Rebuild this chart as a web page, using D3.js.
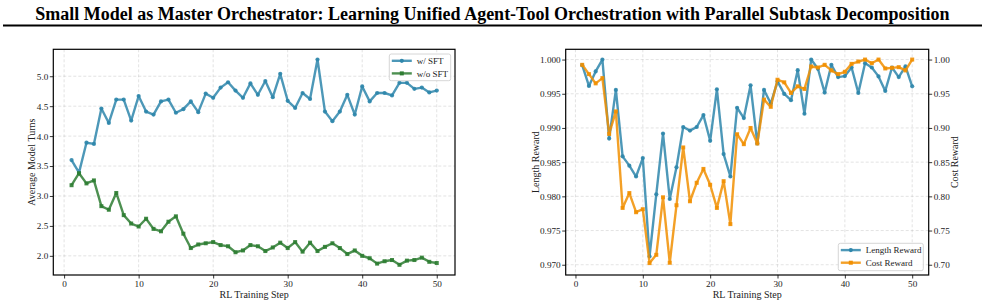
<!DOCTYPE html>
<html>
<head>
<meta charset="utf-8">
<script src="https://cdn.jsdelivr.net/npm/d3@7"></script>
<style>
  body { margin: 0; background: #fff; }
  svg { display: block; font-family: "Liberation Serif", "Times New Roman", serif; }
  svg text { font-family: "Liberation Serif", "Times New Roman", serif; }
</style>
</head>
<body>
<svg id="chart" width="985" height="306"></svg>
<script>
// RL training steps 1..50
const steps = d3.range(1, 51)

// left panel: average model turns
const withSft = [3.60, 3.39, 3.89, 3.87, 4.46, 4.22, 4.61, 4.61, 4.26, 4.67,
  4.41, 4.36, 4.58, 4.61, 4.39, 4.45, 4.58, 4.40, 4.71, 4.64,
  4.81, 4.90, 4.76, 4.64, 4.88, 4.69, 4.92, 4.65, 5.04, 4.59,
  4.47, 4.72, 4.62, 5.28, 4.41, 4.25, 4.41, 4.69, 4.36, 4.83,
  4.58, 4.72, 4.72, 4.68, 4.89, 4.89, 4.79, 4.81, 4.73, 4.76]
const withoutSft = [3.18, 3.38, 3.21, 3.26, 2.83, 2.77, 3.05, 2.68, 2.54, 2.49,
  2.62, 2.45, 2.41, 2.57, 2.66, 2.37, 2.13, 2.19, 2.21, 2.23,
  2.18, 2.16, 2.06, 2.09, 2.18, 2.16, 2.08, 2.14, 2.22, 2.13,
  2.23, 2.07, 2.22, 2.08, 2.15, 2.21, 2.13, 2.03, 2.09, 2.00,
  1.96, 1.87, 1.91, 1.93, 1.85, 1.92, 1.93, 1.97, 1.90, 1.88]

// right panel: length reward (left axis) and cost reward (right axis)
const lengthReward = [0.99918, 0.99614, 0.99826, 1.00000, 0.98845, 0.99556, 0.98585, 0.98449, 0.98290, 0.98560,
  0.97121, 0.98029, 0.98918, 0.97961, 0.98425, 0.99014, 0.98961, 0.99014, 0.99188, 0.98812,
  0.99565, 0.98618, 0.98290, 0.99295, 0.99145, 0.99623, 0.98773, 0.99556, 0.99357, 0.99681,
  0.99498, 0.99406, 0.99845, 0.99208, 1.00000, 0.99865, 0.99517, 0.99923, 0.99744, 0.99758,
  0.99884, 0.99512, 0.99947, 0.99884, 0.99754, 0.99541, 0.99884, 0.99744, 0.99899, 0.99609]
const costReward = [0.9923, 0.9787, 0.9652, 0.9729, 0.8913, 0.9242, 0.7831, 0.8048, 0.7768, 0.7812,
  0.7024, 0.7145, 0.7986, 0.7029, 0.7870, 0.8715, 0.7928, 0.8198, 0.8401, 0.8169,
  0.7831, 0.8222, 0.7594, 0.8908, 0.8763, 0.9000, 0.8773, 0.9415, 0.9309, 0.9705,
  0.9667, 0.9512, 0.9609, 0.9570, 0.9899, 0.9884, 0.9923, 0.9841, 0.9787, 0.9821,
  0.9937, 0.9971, 1.0000, 0.9947, 1.0000, 0.9870, 0.9879, 0.9889, 0.9841, 1.0000]

const xTicks = [0, 10, 20, 30, 40, 50]
const turnTicks = [2.0, 2.5, 3.0, 3.5, 4.0, 4.5, 5.0]
const lengthTicks = [0.970, 0.975, 0.980, 0.985, 0.990, 0.995, 1.000]
const costTicks = [0.70, 0.75, 0.80, 0.85, 0.90, 0.95, 1.00]

const BLUE = '#2E86AB', GREEN = '#2E7D32', ORANGE = '#F18F01'
const TEXT = '#222'

const svg = d3.select('#chart')

// title + rule
svg.append('text')
  .attr('x', 492.5).attr('y', 19.5)
  .attr('text-anchor', 'middle')
  .attr('font-size', 18).attr('font-weight', 'bold')
  .text('Small Model as Master Orchestrator: Learning Unified Agent-Tool Orchestration with Parallel Subtask Decomposition')
svg.append('line')
  .attr('x1', 3).attr('x2', 982).attr('y1', 25.5).attr('y2', 25.5)
  .attr('stroke', '#000').attr('stroke-width', 2)

const plotTop = 49.3, plotBottom = 275

function panel(left, right) {
  return d3.scaleLinear().domain([-1.45, 52.45]).range([left, right])
}

function grid(x, y, yTicks, left, right) {
  const g = svg.append('g')
  g.selectAll('.gx').data(xTicks).enter().append('line')
    .attr('x1', d => x(d)).attr('x2', d => x(d))
    .attr('y1', plotTop).attr('y2', plotBottom)
    .attr('stroke', '#b0b0b0').attr('stroke-opacity', 0.45)
    .attr('stroke-dasharray', '3,2').attr('stroke-width', 0.8)
  g.selectAll('.gy').data(yTicks).enter().append('line')
    .attr('x1', left).attr('x2', right)
    .attr('y1', d => y(d)).attr('y2', d => y(d))
    .attr('stroke', '#b0b0b0').attr('stroke-opacity', 0.45)
    .attr('stroke-dasharray', '3,2').attr('stroke-width', 0.8)
}

function series(x, y, values, color, marker) {
  const line = d3.line().x((d, i) => x(steps[i])).y(d => y(d))
  svg.append('path').datum(values)
    .attr('d', line).attr('fill', 'none')
    .attr('stroke', color).attr('stroke-width', 2.4)
    .attr('stroke-opacity', 0.85).attr('stroke-linejoin', 'round')
  const pts = svg.append('g').attr('fill', color).attr('fill-opacity', 0.9)
  if (marker === 'circle') {
    pts.selectAll('circle').data(values).enter().append('circle')
      .attr('cx', (d, i) => x(steps[i])).attr('cy', d => y(d)).attr('r', 2.1)
  } else {
    pts.selectAll('rect').data(values).enter().append('rect')
      .attr('x', (d, i) => x(steps[i]) - 2).attr('y', d => y(d) - 2)
      .attr('width', 4).attr('height', 4)
  }
}

function styleAxis(g) {
  g.attr('font-family', null).attr('font-size', null)
  g.selectAll('path').remove()
  g.selectAll('line').attr('stroke', '#000').attr('stroke-width', 0.8)
  g.selectAll('text').style('font-size', '9.2px').attr('fill', TEXT)
}

function frame(left, right) {
  svg.append('rect')
    .attr('x', left).attr('y', plotTop)
    .attr('width', right - left).attr('height', plotBottom - plotTop)
    .attr('fill', 'none').attr('stroke', '#000').attr('stroke-width', 1.2)
}

function legend(x0, y0, w, h, items) {
  const g = svg.append('g')
  g.append('rect').attr('x', x0).attr('y', y0).attr('width', w).attr('height', h)
    .attr('rx', 2).attr('fill', '#fff').attr('fill-opacity', 0.85)
    .attr('stroke', '#ccc').attr('stroke-width', 0.8)
  items.forEach((it, i) => {
    const cy = y0 + 6.8 + i * 12.6
    g.append('line').attr('x1', x0 + 2.5).attr('x2', x0 + 22.5)
      .attr('y1', cy).attr('y2', cy)
      .attr('stroke', it.color).attr('stroke-width', 2.4).attr('stroke-opacity', 0.85)
    if (it.marker === 'circle') {
      g.append('circle').attr('cx', x0 + 12.5).attr('cy', cy).attr('r', 2.1).attr('fill', it.color)
    } else {
      g.append('rect').attr('x', x0 + 10.5).attr('y', cy - 2).attr('width', 4).attr('height', 4).attr('fill', it.color)
    }
    g.append('text').attr('x', x0 + 27.5).attr('y', cy + 3.2)
      .attr('font-size', 9).attr('fill', TEXT).text(it.label)
  })
}

function axisLabel(x, y, rotate, label) {
  svg.append('text')
    .attr('transform', `translate(${x},${y})` + (rotate ? ' rotate(-90)' : ''))
    .attr('text-anchor', 'middle').attr('font-size', 10).attr('fill', TEXT)
    .text(label)
}

// ---------- left panel ----------
{
  const left = 53.3, right = 455
  const x = panel(left, right)
  const y = d3.scaleLinear().domain([1.68, 5.45]).range([plotBottom, plotTop])
  grid(x, y, turnTicks, left, right)
  series(x, y, withSft, BLUE, 'circle')
  series(x, y, withoutSft, GREEN, 'square')

  svg.append('g').attr('transform', `translate(0,${plotBottom})`)
    .call(d3.axisBottom(x).tickValues(xTicks).tickSize(3.5).tickPadding(1.5).tickFormat(d3.format('d')))
    .call(styleAxis)
  svg.append('g').attr('transform', `translate(${left},0)`)
    .call(d3.axisLeft(y).tickValues(turnTicks).tickSize(3.5).tickPadding(1.5).tickFormat(d3.format('.1f')))
    .call(styleAxis)
  frame(left, right)

  axisLabel((left + right) / 2, 297.5, false, 'RL Training Step')
  axisLabel(34.5, (plotTop + plotBottom) / 2, true, 'Average Model Turns')

  legend(389.3, 54, 61.4, 26.7, [
    { label: 'w/ SFT', color: BLUE, marker: 'circle' },
    { label: 'w/o SFT', color: GREEN, marker: 'square' }
  ])
}

// ---------- right panel ----------
{
  const left = 565.7, right = 928.7
  const x = panel(left, right)
  const yL = d3.scaleLinear().domain([0.9685, 1.0015]).range([plotBottom, plotTop])
  const yR = d3.scaleLinear().domain([0.685, 1.015]).range([plotBottom, plotTop])
  grid(x, yL, lengthTicks, left, right)
  series(x, yL, lengthReward, BLUE, 'circle')
  series(x, yR, costReward, ORANGE, 'square')

  svg.append('g').attr('transform', `translate(0,${plotBottom})`)
    .call(d3.axisBottom(x).tickValues(xTicks).tickSize(3.5).tickPadding(1.5).tickFormat(d3.format('d')))
    .call(styleAxis)
  svg.append('g').attr('transform', `translate(${left},0)`)
    .call(d3.axisLeft(yL).tickValues(lengthTicks).tickSize(3.5).tickPadding(1.5).tickFormat(d3.format('.3f')))
    .call(styleAxis)
  svg.append('g').attr('transform', `translate(${right},0)`)
    .call(d3.axisRight(yR).tickValues(costTicks).tickSize(3.5).tickPadding(1.5).tickFormat(d3.format('.2f')))
    .call(styleAxis)
  frame(left, right)

  axisLabel((left + right) / 2, 297.5, false, 'RL Training Step')
  axisLabel(539, (plotTop + plotBottom) / 2, true, 'Length Reward')
  axisLabel(958, (plotTop + plotBottom) / 2, true, 'Cost Reward')

  legend(838.3, 243.3, 85, 27.4, [
    { label: 'Length Reward', color: BLUE, marker: 'circle' },
    { label: 'Cost Reward', color: ORANGE, marker: 'square' }
  ])
}
</script>
</body>
</html>
